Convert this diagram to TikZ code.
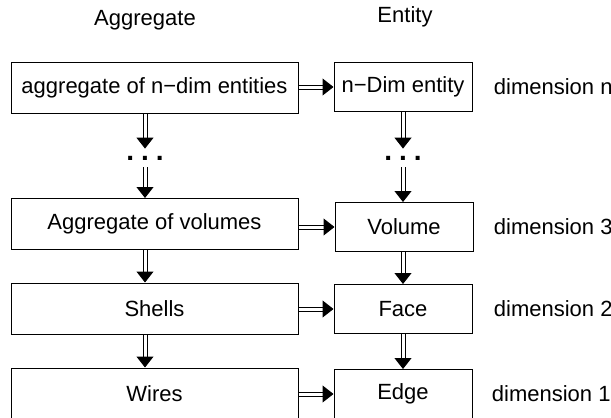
\documentclass[tikz,border=0pt]{standalone}
\usepackage{fontspec}
\setmainfont{Liberation Sans}
\usetikzlibrary{positioning,arrows.meta}

\tikzset{
  aggbox/.style={draw, line width=0.5pt, minimum width=143.5pt, minimum height=25.5pt, inner sep=0pt},
  entbox/.style={draw, line width=0.5pt, minimum width=69pt, minimum height=24.5pt, inner sep=0pt},
  dimlabel/.style={inner sep=0pt, anchor=west},
  dblarrow/.style={double, double distance=1.5pt, line width=0.5pt, -{Triangle[length=5.5pt,width=8.5pt]}},
  dotsnode/.style={inner sep=0pt, minimum height=9pt, font=\fontsize{14}{16}\selectfont\bfseries}
}
\newcommand{\vdotsrow}{.\hspace{3.5pt}.\hspace{3.5pt}.}

\begin{document}
\begin{tikzpicture}[x=0.5pt, y=-0.5pt, font=\fontsize{11}{13}\selectfont]
  \useasboundingbox (0,0) rectangle (611,418);
  \clip (0,0) rectangle (611,418);
  % column heads
  \node (agghead) at (145,20) {Aggregate};
  \node (enthead) at (405,17) {Entity};
  % aggregates
  \node[aggbox] (aggn) at (154.5,88) {aggregate of n−dim entities};
  \node[dotsnode] (ldots) at (145,158) {\vdotsrow};
  \node[aggbox] (aggvol) at (154.5,224) {Aggregate of volumes};
  \node[aggbox] (shells) at (154.5,308.5) {Shells};
  \node[aggbox] (wires) at (154.5,393.5) {Wires};
  % entities
  \node[entbox] (entn) at (403,87) {n−Dim entity};
  \node[dotsnode] (rdots) at (403,158) {\vdotsrow};
  \node[entbox] (volume) at (404,227) {Volume};
  \node[entbox] (face) at (403,309) {Face};
  \node[entbox] (edge) at (403,394) {Edge};
  % dimensions
  \node[dimlabel, right=10.5pt of entn] (dimn) {dimension n};
  \node[dimlabel, right=10pt of volume] (dim3) {dimension 3};
  \node[dimlabel, right=10.5pt of face] (dim2) {dimension 2};
  \node[dimlabel, right=9.5pt of edge] (dim1) {dimension 1};
  % aggregate -> entity
  \draw[dblarrow] (aggn.east |- entn.west) -- (entn.west);
  \draw[dblarrow] (aggvol.east |- volume.west) -- (volume.west);
  \draw[dblarrow] (shells.east |- face.west) -- (face.west);
  \draw[dblarrow] (wires.east |- edge.west) -- (edge.west);
  % downwards
  \draw[dblarrow] (aggn.south -| ldots) -- (ldots.north);
  \draw[dblarrow] (ldots.south) -- (aggvol.north -| ldots);
  \draw[dblarrow] (aggvol.south -| ldots) -- (shells.north -| ldots);
  \draw[dblarrow] (shells.south -| ldots) -- (wires.north -| ldots);
  \draw[dblarrow] (entn.south -| rdots) -- (rdots.north);
  \draw[dblarrow] (rdots.south) -- (volume.north -| rdots);
  \draw[dblarrow] (volume.south -| rdots) -- (face.north -| rdots);
  \draw[dblarrow] (face.south -| rdots) -- (edge.north -| rdots);
\end{tikzpicture}
\end{document}
